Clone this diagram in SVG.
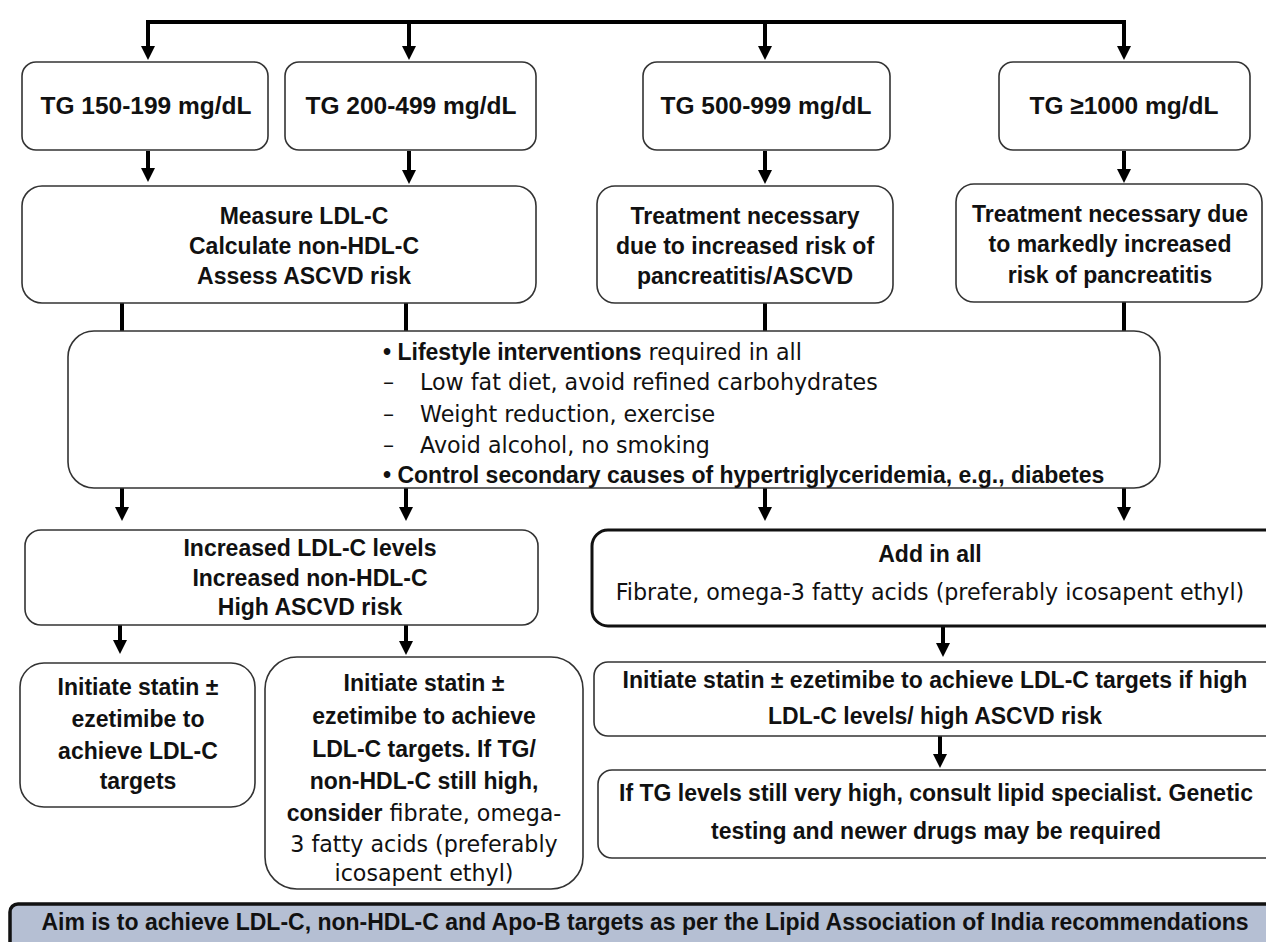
<svg xmlns="http://www.w3.org/2000/svg" width="1266" height="942" viewBox="0 0 1266 942">
<defs>
<marker id="ah" markerWidth="16" markerHeight="16" refX="0" refY="7" orient="auto" markerUnits="userSpaceOnUse">
<path d="M0,0 L14,7 L0,14 z" fill="#000"/>
</marker>
<style>
.box{fill:#fff;stroke:#333;stroke-width:1.6}
.thick{fill:#fff;stroke:#111;stroke-width:3}
.bar{fill:#b5bfd3;stroke:#111;stroke-width:3.5}
.b{font-family:"Liberation Sans",Arial,sans-serif;font-weight:bold;font-size:23px;fill:#111}
.tg{font-size:24.5px}
.r{font-family:"DejaVu Sans",Verdana,sans-serif;font-weight:normal;font-size:22.2px;fill:#111}
.c{text-anchor:middle}
.con{stroke:#000;stroke-width:4;fill:none}
.arr{stroke:#000;stroke-width:4;fill:none;marker-end:url(#ah)}
</style>
</defs>

<g id="connectors">
<path class="con" d="M148,22 H1124"/>
<line class="arr" x1="148" y1="20" x2="148" y2="46"/>
<line class="arr" x1="409" y1="22" x2="409" y2="46"/>
<line class="arr" x1="765" y1="22" x2="765" y2="46"/>
<line class="arr" x1="1124" y1="20" x2="1124" y2="46"/>
<line class="arr" x1="148" y1="151" x2="148" y2="168"/>
<line class="arr" x1="409" y1="151" x2="409" y2="170"/>
<line class="arr" x1="765" y1="151" x2="765" y2="170"/>
<line class="arr" x1="1124" y1="151" x2="1124" y2="169"/>
<line class="con" x1="122" y1="303" x2="122" y2="331"/>
<line class="con" x1="406" y1="303" x2="406" y2="331"/>
<line class="con" x1="765" y1="303" x2="765" y2="331"/>
<line class="con" x1="1124" y1="302" x2="1124" y2="331"/>
<line class="arr" x1="122" y1="488" x2="122" y2="507"/>
<line class="arr" x1="406" y1="488" x2="406" y2="507"/>
<line class="arr" x1="765" y1="488" x2="765" y2="507"/>
<line class="arr" x1="1124" y1="488" x2="1124" y2="507"/>
<line class="arr" x1="120" y1="625" x2="120" y2="640"/>
<line class="arr" x1="406" y1="625" x2="406" y2="641"/>
<line class="arr" x1="943" y1="627" x2="943" y2="643"/>
<line class="arr" x1="940" y1="736" x2="940" y2="754"/>
</g>

<g id="n1"><rect class="box" x="22" y="62" width="246" height="88" rx="14"/>
<text class="b tg c" x="146" y="114">TG 150-199 mg/dL</text></g>

<g id="n2"><rect class="box" x="285" y="62" width="251" height="88" rx="14"/>
<text class="b tg c" x="411" y="114">TG 200-499 mg/dL</text></g>

<g id="n3"><rect class="box" x="643" y="62" width="247" height="88" rx="14"/>
<text class="b tg c" x="766" y="114">TG 500-999 mg/dL</text></g>

<g id="n4"><rect class="box" x="999" y="62" width="251" height="88" rx="14"/>
<text class="b tg c" x="1124" y="114">TG ≥1000 mg/dL</text></g>

<g id="n5"><rect class="box" x="22" y="186" width="514" height="117" rx="20"/>
<text class="b c" x="304" y="224">Measure LDL-C</text>
<text class="b c" x="304" y="254">Calculate non-HDL-C</text>
<text class="b c" x="304" y="284">Assess ASCVD risk</text></g>

<g id="n6"><rect class="box" x="597" y="186" width="296" height="117" rx="18"/>
<text class="b c" x="745" y="224">Treatment necessary</text>
<text class="b c" x="745" y="254">due to increased risk of</text>
<text class="b c" x="745" y="284">pancreatitis/ASCVD</text></g>

<g id="n7"><rect class="box" x="956" y="184" width="306" height="118" rx="18"/>
<text class="b c" x="1110" y="222">Treatment necessary due</text>
<text class="b c" x="1110" y="252">to markedly increased</text>
<text class="b c" x="1110" y="283">risk of pancreatitis</text></g>

<g id="n8"><rect class="box" x="68" y="331" width="1092" height="157" rx="26"/>
<text x="383" y="360"><tspan class="b">• Lifestyle interventions</tspan><tspan class="r"> required in all</tspan></text>
<text class="r" x="383" y="390">–</text><text class="r" x="420" y="390">Low fat diet, avoid refined carbohydrates</text>
<text class="r" x="383" y="422">–</text><text class="r" x="420" y="422">Weight reduction, exercise</text>
<text class="r" x="383" y="453">–</text><text class="r" x="420" y="453">Avoid alcohol, no smoking</text>
<text class="b" x="383" y="483">• Control secondary causes of hypertriglyceridemia, e.g., diabetes</text></g>

<g id="n9"><rect class="box" x="25" y="530" width="513" height="95" rx="16"/>
<text class="b c" x="310" y="556">Increased LDL-C levels</text>
<text class="b c" x="310" y="586">Increased non-HDL-C</text>
<text class="b c" x="310" y="615">High ASCVD risk</text></g>

<g id="n10"><rect class="thick" x="592" y="530" width="690" height="96" rx="16"/>
<text class="b c" x="930" y="562">Add in all</text>
<text class="r c" x="930" y="600">Fibrate, omega-3 fatty acids (preferably icosapent ethyl)</text></g>

<g id="n11"><rect class="box" x="20" y="663" width="235" height="144" rx="24"/>
<text class="b c" x="138" y="695">Initiate statin ±</text>
<text class="b c" x="138" y="727">ezetimibe to</text>
<text class="b c" x="138" y="759">achieve LDL-C</text>
<text class="b c" x="138" y="789">targets</text></g>

<g id="n12"><rect class="box" x="265" y="657" width="318" height="232" rx="32"/>
<text class="b c" x="424" y="691">Initiate  statin ±</text>
<text class="b c" x="424" y="724">ezetimibe to achieve</text>
<text class="b c" x="424" y="757">LDL-C targets. If TG/</text>
<text class="b c" x="424" y="789">non-HDL-C still high,</text>
<text class="c" x="424" y="821"><tspan class="b">consider</tspan><tspan class="r"> fibrate, omega-</tspan></text>
<text class="r c" x="424" y="852">3 fatty acids (preferably</text>
<text class="r c" x="424" y="881">icosapent ethyl)</text></g>

<g id="n13"><rect class="box" x="594" y="662" width="690" height="74" rx="14"/>
<text class="b c" x="935" y="688">Initiate statin ± ezetimibe to achieve LDL-C targets if high</text>
<text class="b c" x="935" y="724">LDL-C levels/ high ASCVD risk</text></g>

<g id="n14"><rect class="box" x="598" y="770" width="686" height="88" rx="14"/>
<text class="b c" x="936" y="801">If TG levels still very high, consult lipid specialist. Genetic</text>
<text class="b c" x="936" y="839">testing and newer drugs may be required</text></g>

<g id="n15"><rect class="bar" x="10" y="904" width="1280" height="50" rx="8"/>
<text class="b c" x="645" y="930">Aim is to achieve LDL-C, non-HDL-C and Apo-B targets as per the Lipid Association of India recommendations</text></g>
</svg>
